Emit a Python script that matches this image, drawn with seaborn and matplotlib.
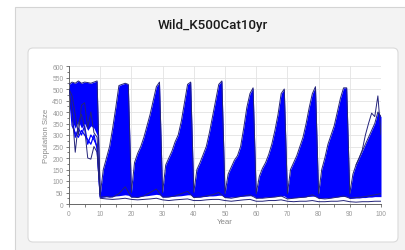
import pandas as pd
import seaborn as sns
import matplotlib.pyplot as plt
from matplotlib.patches import Rectangle, FancyBboxPatch
from matplotlib.transforms import IdentityTransform
from matplotlib.ticker import MultipleLocator

# simulated population runs, K=500, catastrophe every 10 years
years = list(range(101))

# envelope of the dense bundle of runs
upper_env = [
    520, 530, 525, 535, 525, 530, 528, 525, 530, 535,
    40, 150, 200, 250, 330, 420, 515, 520, 525, 520,
    50, 180, 220, 250, 290, 340, 390, 450, 510, 530,
    50, 170, 200, 230, 270, 300, 360, 440, 520, 530,
    50, 150, 180, 215, 250, 310, 380, 450, 520, 535,
    45, 130, 160, 190, 210, 250, 330, 420, 480, 505,
    45, 120, 155, 180, 215, 260, 320, 390, 480, 500,
    45, 150, 180, 210, 250, 290, 350, 420, 480, 510,
    45, 150, 200, 260, 300, 340, 400, 460, 505, 505,
    45, 130, 170, 200, 230, 260, 290, 320, 350, 400,
    380,
]
lower_env = [
    500, 360, 330, 360, 330, 350, 320, 340, 330, 300,
    28, 30, 32, 30, 33, 35, 36, 38, 40, 38,
    30, 32, 30, 34, 35, 36, 38, 40, 42, 40,
    30, 30, 32, 33, 34, 35, 36, 38, 40, 40,
    28, 30, 30, 32, 33, 35, 35, 36, 38, 38,
    28, 28, 30, 30, 32, 33, 34, 35, 36, 36,
    26, 28, 28, 30, 30, 32, 33, 34, 35, 35,
    25, 26, 28, 28, 30, 30, 32, 33, 34, 34,
    25, 25, 26, 28, 28, 30, 30, 32, 33, 33,
    24, 25, 26, 26, 28, 28, 30, 30, 32, 32,
    32,
]

# individual runs that stand out
early_years = list(range(11))
dark_a = [500, 400, 225, 350, 390, 330, 200, 195, 250, 225, 30]
dark_b = [500, 470, 390, 300, 430, 440, 330, 400, 310, 290, 40]
blue_c = [500, 380, 290, 330, 300, 340, 260, 300, 280, 250, 35]
blue_d = [500, 340, 310, 290, 320, 300, 280, 260, 300, 240, 30]

late_years = list(range(10, 101, 2))
bottom_a = [30, 32, 30, 45, 75, 30, 28, 35, 50, 65,
            30, 30, 35, 45, 55, 28, 30, 35, 40, 50,
            28, 25, 30, 35, 40, 25, 25, 28, 30, 35,
            22, 25, 28, 30, 40, 25, 22, 25, 30, 35,
            25, 28, 30, 35, 40, 45]
bottom_b = [25, 22, 20, 22, 25, 20, 18, 20, 22, 25,
            18, 15, 18, 20, 22, 15, 15, 18, 20, 20,
            15, 12, 15, 18, 20, 12, 12, 15, 15, 18,
            12, 10, 12, 12, 15, 10, 10, 12, 12, 15,
            10, 8, 10, 10, 12, 12]

spike_years = [92, 93, 94, 95, 96, 97, 98, 99, 100]
spike_vals = [170, 200, 235, 300, 350, 395, 380, 470, 300]


def runs_frame(items):
    rows = []
    for name, xs, ys in items:
        for x, y in zip(xs, ys):
            rows.append({'run': name, 'Year': x, 'Population Size': y})
    return pd.DataFrame(rows)


dark_df = runs_frame([
    ('a', early_years, dark_a), ('b', early_years, dark_b),
    ('ba', late_years, bottom_a), ('bb', late_years, bottom_b),
    ('spike', spike_years, spike_vals), ('edge', years, upper_env),
])
blue_df = runs_frame([('c', early_years, blue_c), ('d', early_years, blue_d)])

sns.set_theme(style='white')
plt.rcParams['font.family'] = ['Liberation Sans', 'DejaVu Sans']

W, H = 406, 251
fig = plt.figure(figsize=(W / 100, H / 100), dpi=100)
fig.patch.set_facecolor('white')

# panel + card behind the chart
panel = Rectangle((15, -2), W - 13, H - 8 + 2, transform=IdentityTransform(),
                  facecolor='#f3f3f3', edgecolor='#d4d4d4', lw=0.8, zorder=-2)
card = FancyBboxPatch((28, 8), 370, 194, boxstyle='round,pad=0,rounding_size=5',
                      transform=IdentityTransform(), facecolor='white',
                      edgecolor='#dadada', lw=0.8, zorder=-1)
fig.add_artist(panel)
fig.add_artist(card)

fig.text(213 / W, 1 - 25 / H, 'Wild_K500Cat10yr', ha='center', va='center',
         fontsize=9.6, color='#1a1a1a', family=['Roboto', 'DejaVu Sans'],
         fontweight='medium')

ax = fig.add_axes([69 / W, 1 - 205 / H, 312 / W, 138 / H])
ax.set_facecolor('white')

ax.fill_between(years, lower_env, upper_env, color='#0000ff', lw=0, zorder=2)
sns.lineplot(data=blue_df, x='Year', y='Population Size', units='run',
             estimator=None, color='#0000ff', lw=0.9, ax=ax, zorder=2)
sns.lineplot(data=dark_df, x='Year', y='Population Size', units='run',
             estimator=None, color='#23237a', lw=0.7, ax=ax, zorder=3)

ax.set_xlim(0, 100)
ax.set_ylim(0, 600)
ax.xaxis.set_major_locator(MultipleLocator(10))
ax.xaxis.set_minor_locator(MultipleLocator(5))
ax.yaxis.set_major_locator(MultipleLocator(50))
ax.yaxis.set_minor_locator(MultipleLocator(25))
ax.grid(True, which='major', color='#e3e3e3', lw=0.6, zorder=0)
ax.set_axisbelow(True)

for s in ['top', 'right']:
    ax.spines[s].set_visible(False)
for s in ['left', 'bottom']:
    ax.spines[s].set_color('#666666')
    ax.spines[s].set_linewidth(0.7)

ax.tick_params(which='both', direction='out', color='#666666', width=0.6,
               labelsize=4.8, labelcolor='#999999', pad=1.5)
ax.tick_params(which='major', length=2.5, bottom=True, left=True)
ax.tick_params(which='minor', length=1.8, bottom=True, left=True)

ax.set_xlabel('Year', fontsize=5.7, color='#8a8a8a', labelpad=1)
ax.set_ylabel('Population Size', fontsize=5.6, color='#8a8a8a', labelpad=2)

fig.savefig('out.png', dpi=100)
